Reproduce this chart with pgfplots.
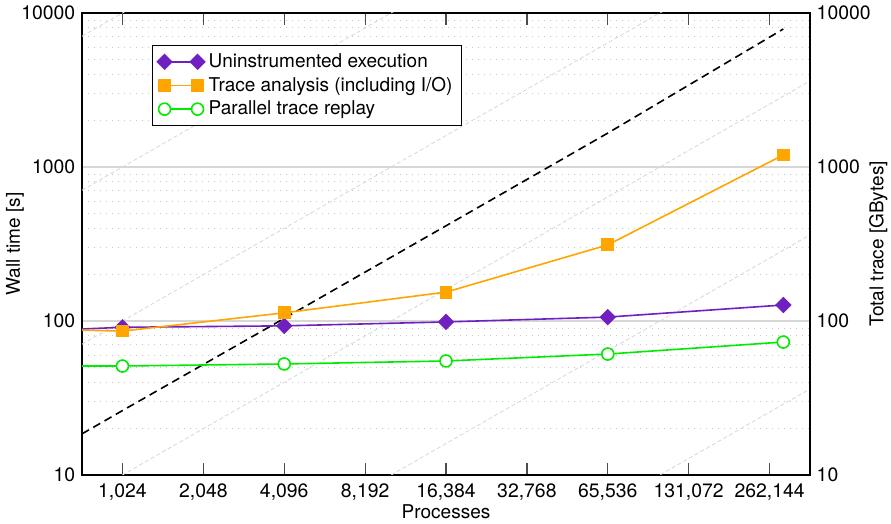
\documentclass[border=0pt]{standalone}
\usepackage{fontspec}
\setmainfont{TeX Gyre Heros}
\usepackage{pgfplots}
\pgfplotsset{compat=1.18}

\definecolor{cpurple}{RGB}{112,32,192}
\definecolor{corange}{RGB}{255,165,0}
\definecolor{cgreen}{RGB}{0,235,0}
\definecolor{majgrid}{RGB}{215,215,215}
\definecolor{mingrid}{RGB}{200,200,200}
\definecolor{refline}{RGB}{218,218,218}

\begin{document}
\fontsize{9.5}{11.4}\selectfont
\begin{tikzpicture}
\begin{axis}[
  name=main,
  scale only axis, width=364pt, height=231pt,
  xmode=log, ymode=log, log basis x=2,
  xmin=724.08, xmax=370727.6, ymin=10, ymax=10000,
  ytick={10,100,1000,10000}, yticklabels={10,100,1000,10000},
  ytick style={draw=none}, minor y tick style={draw=none},
  axis line style={line width=1pt},
  /pgf/number format/assume math mode=true,
  ticklabel style={font=\fontsize{9.7}{11.6}\selectfont},
  xtick={1024,2048,4096,8192,16384,32768,65536,131072,262144},
  xticklabels={1{,}024,2{,}048,4{,}096,8{,}192,16{,}384,32{,}768,65{,}536,131{,}072,262{,}144},
  xticklabel style={yshift=-1pt},
  xminorticks=false,
  major x tick style={draw=black!70, line width=0.6pt},
  major tick length=6pt,
  ymajorgrids=true, yminorgrids=true,
  major grid style={majgrid, line width=0.6pt},
  minor grid style={mingrid, line width=0.5pt, dash pattern=on 0.5pt off 2.5pt},
  xlabel={Processes}, ylabel={Wall time [s]},
  xlabel style={at={(axis description cs:0.5,-0.080)}, anchor=center},
  ylabel style={at={(axis description cs:-0.092,0.5)}, anchor=center},
  legend style={at={(0.096,0.931)}, anchor=north west, draw=black,
    line width=0.6pt, inner xsep=2.5pt, inner ysep=2pt,
    row sep=-0.6pt, font=\fontsize{9.5}{11.4}\selectfont},
  legend cell align=left,
  legend image code/.code={\draw[#1] plot coordinates {(0pt,0pt) (16.5pt,0pt)};},
]
% reference lines: trace size proportional to processes
\addplot[refline, line width=0.45pt, dash pattern=on 2pt off 1.3pt, forget plot] coordinates {(724.08,0.0707)(370727.6,36.2)};
\addplot[refline, line width=0.45pt, dash pattern=on 2pt off 1.3pt, forget plot] coordinates {(724.08,0.707)(370727.6,362)};
\addplot[refline, line width=0.45pt, dash pattern=on 2pt off 1.3pt, forget plot] coordinates {(724.08,7.07)(370727.6,3620)};
\addplot[refline, line width=0.45pt, dash pattern=on 2pt off 1.3pt, forget plot] coordinates {(724.08,70.7)(370727.6,36204)};
\addplot[refline, line width=0.45pt, dash pattern=on 2pt off 1.3pt, forget plot] coordinates {(724.08,707)(370727.6,362039)};
\addplot[refline, line width=0.45pt, dash pattern=on 2pt off 1.3pt, forget plot] coordinates {(724.08,7071)(370727.6,3620390)};
% total trace size
\addplot[black, line width=0.8pt, dash pattern=on 4pt off 2.5pt, forget plot] coordinates {
  (724.08,18.5)(1024,26.2)(4096,104)(16384,415)(65536,1660)(294912,7870)};

\addplot[cpurple, line width=0.8pt, mark=square*, mark size=2.5pt,
  mark options={rotate=45, solid, fill=cpurple}] coordinates {
  (512,86.5)(1024,91)(4096,93)(16384,98.6)(65536,106)(294912,127)};
\addlegendentry{Uninstrumented execution}

\addplot[corange, line width=0.8pt, mark=square*, mark size=2.8pt,
  mark options={solid, fill=corange}] coordinates {
  (512,88.4)(1024,86)(4096,113)(16384,154)(65536,312)(294912,1197)};
\addlegendentry{Trace analysis (including I/O)}

\addplot[cgreen, line width=0.8pt, mark=*, mark size=3pt,
  mark options={solid, fill=white, line width=0.8pt}] coordinates {
  (512,51)(1024,51)(4096,52.6)(16384,55)(65536,61)(294912,73)};
\addlegendentry{Parallel trace replay}
\end{axis}

\begin{axis}[
  scale only axis, width=364pt, height=231pt,
  xmode=log, ymode=log, log basis x=2,
  xmin=724.08, xmax=370727.6, ymin=10, ymax=10000,
  ytick={10,100,1000,10000}, yticklabels={10,100,1000,10000},
  ytick style={draw=none}, minor y tick style={draw=none},
  axis line style={line width=1pt},
  /pgf/number format/assume math mode=true,
  ticklabel style={font=\fontsize{9.7}{11.6}\selectfont},
  axis x line=none, axis y line*=right,
  xtick=\empty,
  ylabel={Total trace [GBytes]},
  ylabel style={at={(axis description cs:1.094,0.5)}, anchor=center},
]
\addplot[draw=none, forget plot] coordinates {(1024,10)};
\end{axis}
\pgfresetboundingbox
\useasboundingbox ([xshift=-41pt,yshift=-24.5pt]main.south west) rectangle ([xshift=40.5pt,yshift=6.5pt]main.north east);
\end{tikzpicture}
\end{document}
